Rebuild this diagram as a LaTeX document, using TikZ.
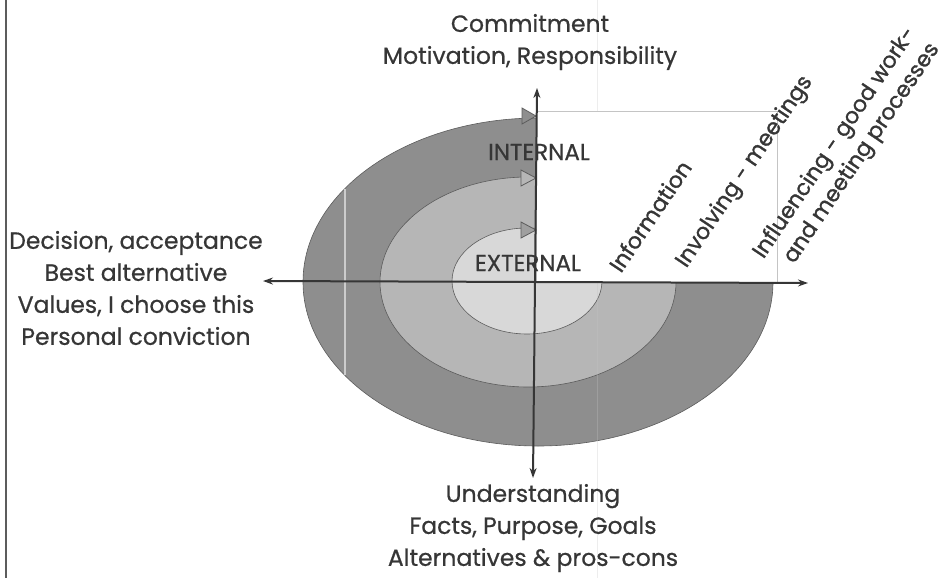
\documentclass[tikz,border=0pt]{standalone}
\usepackage{fontspec}
\setmainfont{Poppins}[FakeBold=0.6]
\newfontfamily\slantfont{Poppins}[FakeBold=1.2]
\usetikzlibrary{arrows.meta, positioning}
\definecolor{ringout}{HTML}{8E8E8E}
\definecolor{ringmid}{HTML}{B6B6B6}
\definecolor{ringin}{HTML}{D8D8D8}
\definecolor{inkdark}{HTML}{363636}
\definecolor{edge}{HTML}{5C5C5C}
\definecolor{faint}{HTML}{C4C4C4}

\begin{document}
\begin{tikzpicture}[x=1pt, y=-1pt,
      every node/.style={text=inkdark, font=\fontsize{23.5}{32}\selectfont},
      label/.style={align=center, inner sep=0pt},
      caps/.style={inner sep=0pt, font=\fontsize{23}{24}\selectfont},
      slant/.style={rotate=56, inner sep=0pt, font=\slantfont\fontsize{22}{28}\selectfont},
      ring/.style={draw=edge, line width=0.6pt},
      tipmark/.style={draw=edge, line width=0.8pt},
      axis/.style={draw=inkdark, line width=2pt, -{Stealth[length=10pt, width=7pt]}}
    ]
    \useasboundingbox (0,0) rectangle (945,578);
    \draw[edge, line width=1.5pt] (6,0) -- (6,578);

    % the three rings of the spiral
    \draw[ring, fill=ringout] (538,282) ellipse [x radius=235, y radius=164];
    \draw[ring, fill=ringmid] (528,282) ellipse [x radius=148, y radius=105];
    \draw[ring, fill=ringin] (527,281) ellipse [x radius=75, y radius=53];
    \draw[ringout!45!white, line width=1.2pt] (345,189) -- (345,375);
    \draw[faint, opacity=0.3, line width=0.8pt] (597,0) -- (597,578);
    \draw[fill=white, draw=faint, line width=0.6pt] (536,111) rectangle (777,282);

    % arrow ends of the rings
    \draw[tipmark, fill=ringout] (522,108) -- (536,116) -- (522,124) -- cycle;
    \draw[tipmark, fill=ringmid] (521,170) -- (536,178) -- (521,186) -- cycle;
    \draw[tipmark, fill=gray!75] (521,222) -- (536,230) -- (521,238) -- cycle;

    % axes
    \coordinate (ctr) at (535,282);
    \coordinate (ntop) at (537,88);
    \coordinate (nbot) at (533,478);
    \coordinate (nleft) at (263,281);
    \coordinate (nright) at (808,283);
    \draw[axis] (ctr) -- (ntop);
    \draw[axis] (ctr) -- (nbot);
    \draw[axis] (ctr) -- (nleft);
    \draw[axis] (ctr) -- (nright);

    \node[label] (commit) at (530,42) {Commitment\\Motivation, Responsibility};
    \node[label] (decide) at (136,288) {Decision, acceptance\\Best alternative\\Values, I choose this\\Personal conviction};
    \node[label] (under) at (533,528) {Understanding\\Facts, Purpose, Goals\\Alternatives \& pros-cons};
    \node[caps] (intl) at (539,152) {INTERNAL};
    \node[caps] (extl) at (528,263) {EXTERNAL};

    \node[slant] (info) at (650,216) {Information};
    \node[slant] (invol) at (745,172) {Involving - meetings};
    \node[slant, align=right] (influ) at (847,151) {Influencing - good work-\\and meeting processes};
\end{tikzpicture}
\end{document}
